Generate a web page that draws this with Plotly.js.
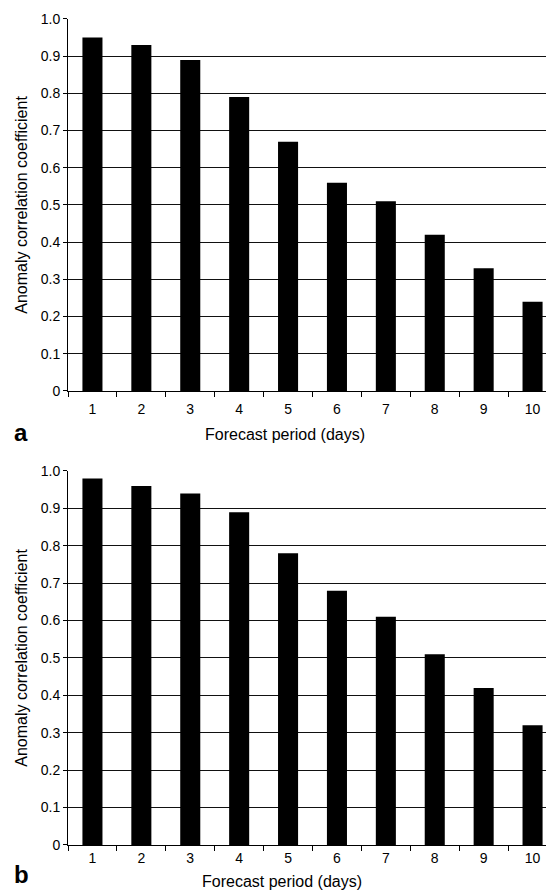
<!DOCTYPE html>
<html>
<head>
<meta charset="utf-8">
<script src="https://cdn.plot.ly/plotly-3.0.1.min.js"></script>
<style>html,body{margin:0;padding:0;background:#fff;}#chart{width:546px;height:890px;}</style>
</head>
<body>
<div id="chart"></div>
<script>
var days = ['1','2','3','4','5','6','7','8','9','10'];
var acc_a = [0.95, 0.93, 0.89, 0.79, 0.67, 0.56, 0.51, 0.42, 0.33, 0.24];
var acc_b = [0.98, 0.96, 0.94, 0.89, 0.78, 0.68, 0.61, 0.51, 0.42, 0.32];
var yTickVals = [0, 0.1, 0.2, 0.3, 0.4, 0.5, 0.6, 0.7, 0.8, 0.9, 1.0];
var yTickText = ['0', '0.1', '0.2', '0.3', '0.4', '0.5', '0.6', '0.7', '0.8', '0.9', '1.0'];
var panelLabels = ['a', 'b'];
var xTitle = 'Forecast period (days)';
var yTitle = 'Anomaly correlation coefficient';

var FONT = 'Liberation Sans, Arial, sans-serif';

var traces = [
  {type: 'bar', x: days, y: acc_a, xaxis: 'x', yaxis: 'y', marker: {color: '#000'}, hoverinfo: 'x+y'},
  {type: 'bar', x: days, y: acc_b, xaxis: 'x2', yaxis: 'y2', marker: {color: '#000'}, hoverinfo: 'x+y'}
];

function xax(anchor, standoff) {
  return {
    type: 'category', anchor: anchor, domain: [0, 1],
    range: [-0.5, 9.275],
    showline: true, linecolor: '#000', linewidth: 1,
    ticks: 'outside', tickson: 'boundaries', ticklen: 5, tickcolor: '#000', tickwidth: 1,
    ticklabelstandoff: standoff,
    showgrid: false, zeroline: false,
    tickfont: {family: FONT, size: 14, color: '#000'}
  };
}
function yax(anchor, dom) {
  return {
    anchor: anchor, domain: dom, range: [0, 1.0],
    tickvals: yTickVals, ticktext: yTickText,
    showline: true, linecolor: '#000', linewidth: 1,
    ticks: 'outside', ticklen: 4, tickcolor: '#000',
    showgrid: true, gridcolor: '#111', gridwidth: 1,
    zeroline: false,
    tickfont: {family: FONT, size: 14, color: '#000'},
    title: {text: yTitle, font: {family: FONT, size: 16, color: '#000'}, standoff: 9}
  };
}

var layout = {
  width: 546, height: 890,
  margin: {l: 68, r: 0, t: 0, b: 0},
  paper_bgcolor: '#fff', plot_bgcolor: '#fff',
  showlegend: false,
  bargap: 0.59,
  font: {family: FONT, color: '#000'},
  xaxis: xax('y', 5),
  yaxis: yax('x', [0.5607, 0.9787]),
  xaxis2: xax('y2', 0),
  yaxis2: yax('x2', [0.0506, 0.4708]),
  annotations: [
    {text: xTitle, xref: 'paper', yref: 'paper', x: (285 - 68) / 478, y: (890 - 434) / 890, xanchor: 'center', yanchor: 'middle', showarrow: false, font: {family: FONT, size: 16, color: '#000'}},
    {text: xTitle, xref: 'paper', yref: 'paper', x: (282 - 68) / 478, y: (890 - 881) / 890, xanchor: 'center', yanchor: 'middle', showarrow: false, font: {family: FONT, size: 16, color: '#000'}},
    {text: '<b>' + panelLabels[0] + '</b>', xref: 'paper', yref: 'paper', x: (21 - 68) / 478, y: (890 - 432) / 890, xanchor: 'center', yanchor: 'middle', showarrow: false, font: {family: FONT, size: 24, color: '#000'}},
    {text: '<b>' + panelLabels[1] + '</b>', xref: 'paper', yref: 'paper', x: (21 - 68) / 478, y: (890 - 874) / 890, xanchor: 'center', yanchor: 'middle', showarrow: false, font: {family: FONT, size: 24, color: '#000'}}
  ]
};

Plotly.newPlot('chart', traces, layout, {displayModeBar: false, staticPlot: true});
</script>
</body>
</html>
